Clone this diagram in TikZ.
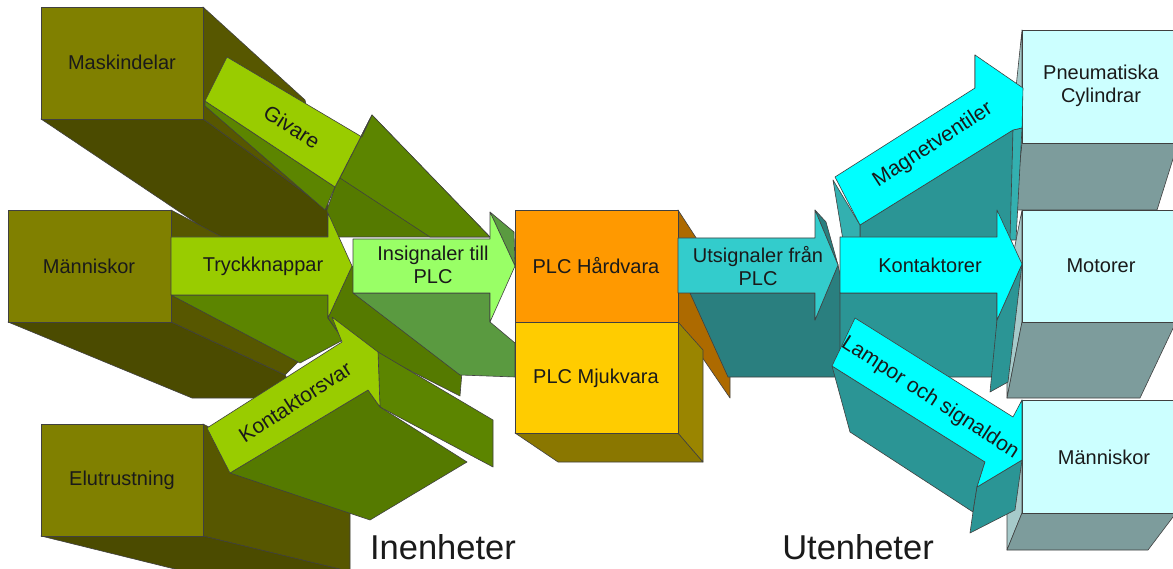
\documentclass[tikz,border=0pt]{standalone}
\usepackage{fontspec}
\setmainfont{Liberation Sans}
\definecolor{olv}{HTML}{808000}
\definecolor{olvside}{HTML}{575700}
\definecolor{olvbot}{HTML}{4B4B00}
\definecolor{lgreen}{HTML}{99CC00}
\definecolor{gext}{HTML}{5C8500}
\definecolor{gextd}{HTML}{557A00}
\definecolor{insig}{HTML}{99FF66}
\definecolor{insext}{HTML}{5A9A40}
\definecolor{hard}{HTML}{FF9900}
\definecolor{hardside}{HTML}{AD6A00}
\definecolor{mjuk}{HTML}{FFCC00}
\definecolor{mjukside}{HTML}{9A8500}
\definecolor{mjukbot}{HTML}{8A7700}
\definecolor{utsig}{HTML}{33CCCC}
\definecolor{utext}{HTML}{2A7F7F}
\definecolor{cyanar}{HTML}{00FFFF}
\definecolor{cyext}{HTML}{2B9595}
\definecolor{cyextl}{HTML}{33B0B0}
\definecolor{boxfr}{HTML}{CCFFFF}
\definecolor{boxbot}{HTML}{7D9C9C}
\definecolor{boxside}{HTML}{A6CACA}
\definecolor{ink}{HTML}{1A1A1A}
\begin{document}
\begin{tikzpicture}[x=1pt,y=-1pt,
  face/.style={draw=black!75,line width=0.6pt,line join=round},
  lbl/.style={font=\fontsize{20}{23}\selectfont,align=center,text=ink,inner sep=0pt},
  tlbl/.style={font=\fontsize{21}{24}\selectfont,text=ink,inner sep=0pt},
  big/.style={font=\fontsize{34.5}{40}\selectfont,text=ink,inner sep=0pt}]
\useasboundingbox (0,0) rectangle (1173,569);
\clip (0,0) rectangle (1173,569);
\fill[white] (0,0) rectangle (1173,569);

% ---------- input devices: extruded olive boxes ----------
\draw[face,fill=olvside] (203,7) -- (305,100) -- (328,200) -- (328,210) -- (203,119) -- cycle;
\draw[face,fill=olvbot] (41,119) -- (203,119) -- (328,210) -- (328,237) -- (217,237) -- cycle;
\draw[face,fill=olvside] (171,210) -- (222,237) -- (330,237) -- (330,330) -- (285,375) -- (171,322) -- cycle;
\draw[face,fill=olvbot] (8,322) -- (171,322) -- (285,375) -- (300,398) -- (192,398) -- cycle;
\draw[face,fill=olvside] (203,424) -- (350,500) -- (350,572) -- (203,536) -- cycle;
\draw[face,fill=olvbot] (41,536) -- (203,536) -- (352,572) -- (187,572) -- cycle;
\draw[face,fill=olv] (41,7) rectangle (203,119);
\draw[face,fill=olv] (8,210) rectangle (171,322);
\draw[face,fill=olv] (41,424) rectangle (203,536);

% ---------- input arrows ----------
% Givare
\draw[face,fill=gextd] (335,187) -- (372,115) -- (490,237) -- (330,237) -- (327,210) -- cycle;
\draw[face,fill=gext] (340,178) -- (372,115) -- (490,237) -- (430,237) -- cycle;
\draw[face,fill=gext] (205,101) -- (335,187) -- (325,210) -- (205,106) -- cycle;
\draw[face,fill=lgreen] (227,57) -- (362,137) -- (372,115) -- (335,187) -- (205,101) -- cycle;
% Tryckknappar
\draw[face,fill=gext] (171,295) -- (328,295) -- (328,318) -- (343,340) -- (300,363) -- cycle;
\draw[face,fill=gextd] (328,318) -- (352,266) -- (462,372) -- (460,396) -- (340,335) -- cycle;
\draw[face,fill=lgreen] (171,237) -- (328,237) -- (328,213) -- (352,266) -- (328,318) -- (328,295) -- (171,295) -- cycle;
% Insignaler till PLC
\draw[face,fill=insext] (353,293) -- (490,293) -- (490,322) -- (515,343) -- (515,377) -- (460,375) -- cycle;
\draw[face,fill=insext] (490,212) -- (514,232) -- (515,266) -- cycle;
\draw[face,fill=insig] (353,239) -- (490,239) -- (490,212) -- (515,266) -- (490,322) -- (490,293) -- (353,293) -- cycle;
% Kontaktorsvar
\draw[face,fill=gext] (378,352) -- (493,420) -- (493,467) -- (380,407) -- cycle;
\draw[face,fill=gextd] (230,473) -- (368,390) -- (380,407) -- (467,462) -- (370,520) -- cycle;
\draw[face,fill=lgreen] (207,428) -- (342,342) -- (332,317) -- (378,352) -- (380,407) -- (368,390) -- (230,473) -- cycle;

% ---------- PLC block ----------
\draw[face,fill=hardside] (678,210) -- (730,290) -- (730,398) -- (678,322) -- cycle;
\draw[face,fill=mjukbot] (515,433) -- (678,433) -- (703,462) -- (558,462) -- cycle;
\draw[face,fill=mjukside] (678,322) -- (703,350) -- (703,462) -- (678,433) -- cycle;
\draw[face,fill=hard] (515,210) rectangle (678,322);
\draw[face,fill=mjuk] (515,322) rectangle (678,433);

% ---------- Utsignaler från PLC ----------
\draw[face,fill=utext] (690,293) -- (815,293) -- (815,320) -- (838,265) -- (850,320) -- (848,377) -- (728,377) -- cycle;
\draw[face,fill=utext] (815,210) -- (826,222) -- (838,265) -- cycle;
\draw[face,fill=utsig] (678,238) -- (815,238) -- (815,210) -- (838,265) -- (815,320) -- (815,293) -- (678,293) -- cycle;

% ---------- output devices: extruded pale boxes ----------
\draw[face,fill=boxside] (1022,30) -- (1022,143) -- (1015,210) -- (1015,97) -- cycle;
\draw[face,fill=boxbot] (1022,143) -- (1178,143) -- (1157,210) -- (1015,210) -- cycle;
\draw[face,fill=boxfr] (1022,30) rectangle (1178,143);
\draw[face,fill=boxside] (1022,210) -- (1022,322) -- (1007,398) -- (1007,286) -- cycle;
\draw[face,fill=boxbot] (1022,322) -- (1176,322) -- (1140,398) -- (1007,398) -- cycle;
\draw[face,fill=boxfr] (1022,210) rectangle (1176,322);
\draw[face,fill=boxside] (1022,400) -- (1022,513) -- (1007,550) -- (1007,437) -- cycle;
\draw[face,fill=boxbot] (1022,513) -- (1176,513) -- (1148,550) -- (1007,550) -- cycle;
\draw[face,fill=boxfr] (1022,400) rectangle (1176,513);

% ---------- output arrows ----------
% Magnetventiler
\draw[face,fill=cyext] (860,225) -- (1013,130) -- (1012,240) -- (860,240) -- cycle;
\draw[face,fill=cyextl] (833,180) -- (860,225) -- (860,240) -- (843,240) -- cycle;
\draw[face,fill=cyextl] (1013,130) -- (1022,128) -- (1016,240) -- (1010,240) -- cycle;
\draw[face,fill=cyextl] (975,55) -- (988,72) -- (975,88) -- cycle;
\draw[face,fill=cyanar] (835,177) -- (975,88) -- (975,55) -- (1023,88) -- (1022,128) -- (1013,130) -- (860,225) -- cycle;
% Kontaktorer
\draw[face,fill=cyext] (840,293) -- (997,293) -- (997,320) -- (995,377) -- (840,377) -- cycle;
\draw[face,fill=cyext] (997,320) -- (1022,264) -- (1008,382) -- (990,392) -- cycle;
\draw[face,fill=cyanar] (840,237) -- (997,237) -- (997,210) -- (1022,264) -- (997,320) -- (997,293) -- (840,293) -- cycle;
% Lampor och signaldon
\draw[face,fill=cyext] (832,366) -- (985,462) -- (977,487) -- (973,512) -- (850,432) -- cycle;
\draw[face,fill=cyext] (977,487) -- (1022,460) -- (1015,510) -- (970,533) -- (973,512) -- cycle;
\draw[face,fill=cyanar] (855,318) -- (1013,417) -- (1022,400) -- (1022,460) -- (977,487) -- (985,462) -- (832,366) -- cycle;

% ---------- labels ----------
\node[lbl] (tMask) at (122,62) {Maskindelar};
\node[lbl] (tMannL) at (89,266) {Människor};
\node[lbl] (tElut) at (122,480) {Elutrustning};
\node[tlbl,rotate=-33] (tGiv) at (292,127) {Givare};
\node[lbl] (tTryck) at (263,266) {Tryckknappar};
\node[tlbl,rotate=33] (tKsvar) at (295,402) {Kontaktorsvar};
\node[lbl] (tIns) at (433,265) {Insignaler till\\PLC};
\node[lbl] (tHard) at (596,266) {PLC Hårdvara};
\node[lbl] (tMjuk) at (596,378) {PLC Mjukvara};
\node[lbl] (tUts) at (758,266) {Utsignaler från\\PLC};
\node[tlbl,rotate=33] (tMag) at (933,145) {Magnetventiler};
\node[lbl] (tKont) at (930,265) {Kontaktorer};
\node[tlbl,rotate=-33] (tLamp) at (930,398) {Lampor och signaldon};
\node[lbl] (tPneu) at (1101,86) {Pneumatiska\\Cylindrar};
\node[lbl] (tMot) at (1101,266) {Motorer};
\node[lbl] (tMannR) at (1104,457) {Människor};
\node[big] (tIn) at (443,547) {Inenheter};
\node[big] (tUt) at (858,547) {Utenheter};
\end{tikzpicture}
\end{document}
